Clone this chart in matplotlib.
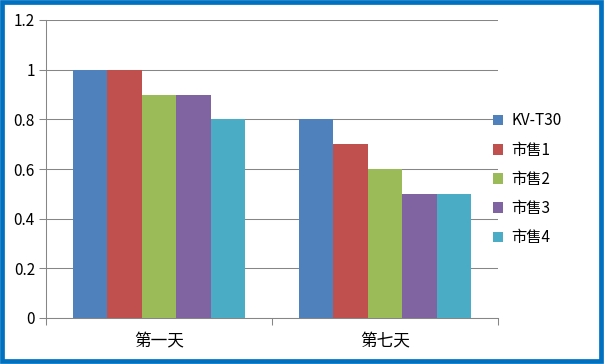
import numpy as np
import matplotlib
matplotlib.use("Agg")
import matplotlib.pyplot as plt
from matplotlib.patches import Rectangle

plt.rcParams['font.family'] = ['Noto Sans CJK SC', 'DejaVu Sans']

categories = ["第一天", "第七天"]
series_names = ["KV-T30", "市售1", "市售2", "市售3", "市售4"]
values = [
    [1.0, 0.8],
    [1.0, 0.7],
    [0.9, 0.6],
    [0.9, 0.5],
    [0.8, 0.5],
]
colors = ["#4F81BD", "#C0504D", "#9BBB59", "#8064A2", "#4BACC6"]
yticks = [0, 0.2, 0.4, 0.6, 0.8, 1, 1.2]
ytick_labels = ["0", "0.2", "0.4", "0.6", "0.8", "1", "1.2"]

fig = plt.figure(figsize=(6.04, 3.64), dpi=100)
ax = fig.add_axes([46 / 604, 46 / 364, 452 / 604, 298 / 364])

x = np.arange(len(categories))
bar_w = 0.153
n = len(series_names)
for i, (name, vals, c) in enumerate(zip(series_names, values, colors)):
    offs = (i - (n - 1) / 2) * bar_w
    ax.bar(x + offs, vals, width=bar_w, color=c, label=name, zorder=3)

ax.set_xlim(-0.5, len(categories) - 0.5)
ax.set_ylim(0, 1.2)
ax.set_yticks(yticks)
ax.set_yticklabels(ytick_labels, fontsize=11)
ax.yaxis.grid(True, color="#868686", linewidth=0.75, zorder=0)

ax.set_xticks(x)
ax.set_xticklabels(categories, fontsize=12)
ax.tick_params(axis="x", which="major", length=0, pad=11)
ax.set_xticks(np.arange(-0.5, len(categories), 1.0), minor=True)
ax.tick_params(axis="x", which="minor", length=5, color="#868686", width=0.75)
ax.tick_params(axis="y", length=5, color="#868686", width=0.75, pad=3)

for s in ["top", "right"]:
    ax.spines[s].set_visible(False)
for s in ["left", "bottom"]:
    ax.spines[s].set_color("#868686")
    ax.spines[s].set_linewidth(0.75)

leg = ax.legend(loc="center left", bbox_to_anchor=(0.958, 0.465), frameon=False,
                fontsize=11, handlelength=0.7, handleheight=0.7,
                handletextpad=0.5, labelspacing=0.8)

# blue frame around the whole picture
fig.patches.append(Rectangle((2 / 604, 3 / 364), 599 / 604, 359 / 364,
                             transform=fig.transFigure, fill=False,
                             edgecolor="#0070C0", linewidth=3.4))

fig.savefig("out.png", dpi=100)
